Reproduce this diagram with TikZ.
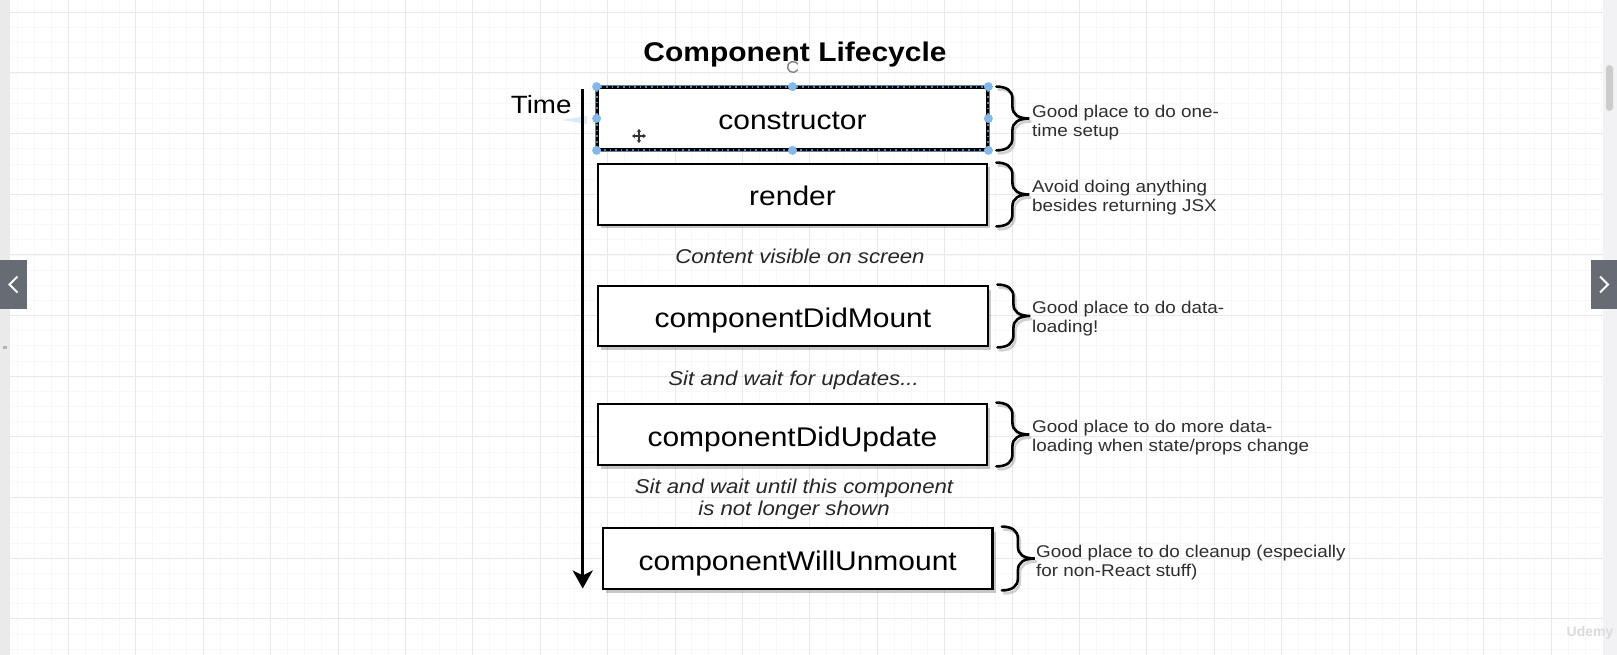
\documentclass[tikz,border=0pt]{standalone}
\usepackage{fontspec}
\setmainfont{Liberation Sans}
\usepackage{graphicx}
\usetikzlibrary{arrows.meta,calc,shadows}
\newcommand{\sx}[1]{\scalebox{1.11}[1]{#1}}
\definecolor{gridmajc}{HTML}{E9E9E9}
\definecolor{gridminc}{HTML}{F8F8F8}
\definecolor{navgray}{HTML}{676B74}
\definecolor{handlec}{HTML}{84B8EA}
\definecolor{stripc}{HTML}{EAEAEA}
\definecolor{rstripc}{HTML}{F2F2F4}
\newcommand{\curly}[3]{%
 ($(#1.north east)+(8+#2,#3)$)
 .. controls ($(#1.north east)+(18+#2,#3)$) and ($(#1.north east)+(24+#2,4+#3)$) .. ($(#1.north east)+(24+#2,12+#3)$)
 -- ($(#1.east)+(24+#2,-12+#3)$)
 .. controls ($(#1.east)+(24+#2,-4+#3)$) and ($(#1.east)+(30+#2,#3)$) .. ($(#1.east)+(41+#2,#3)$)
 .. controls ($(#1.east)+(30+#2,#3)$) and ($(#1.east)+(24+#2,4+#3)$) .. ($(#1.east)+(24+#2,12+#3)$)
 -- ($(#1.south east)+(24+#2,-12+#3)$)
 .. controls ($(#1.south east)+(24+#2,-4+#3)$) and ($(#1.south east)+(18+#2,#3)$) .. ($(#1.south east)+(8+#2,#3)$)}
\begin{document}
\begin{tikzpicture}[x=1pt,y=-1pt,
  minorline/.style={draw=gridminc, line width=0.8pt},
  majorline/.style={draw=gridmajc, line width=1pt},
  box/.style={draw=black, line width=2.8pt, fill=white, minimum width=389pt, minimum height=61pt,
    inner sep=0pt, font=\fontsize{27pt}{32pt}\selectfont, text height=23pt, text depth=0pt,
    drop shadow={shadow xshift=3pt, shadow yshift=-3.5pt, opacity=0.22, fill=black}},
  lbl/.style={inner sep=0pt, font=\fontsize{20pt}{22pt}\selectfont\itshape, text=black!85},
  note/.style={inner sep=0pt, anchor=north west, align=left, font=\fontsize{17pt}{19.2pt}\selectfont, text=black!82},
  bracestyle/.style={draw=black, line width=2.6pt, line cap=round},
  braceshadow/.style={draw=black, opacity=0.18, line width=2.6pt, line cap=round},
  timeline/.style={draw=black, line width=3pt, -{Stealth[length=18pt,width=20pt,inset=5pt]}}
]
\useasboundingbox (0,0) rectangle (1617,655);
\fill[white] (0,0) rectangle (1617,655);
% grid
\foreach \k in {0,...,42} {\draw[minorline] (10,{12.3+15.1625*\k}) -- (1603,{12.3+15.1625*\k});}
\foreach \k in {1,...,95} {\draw[minorline] ({1+16.85*\k},0) -- ({1+16.85*\k},655);}
\foreach \k in {0,...,10} {\draw[majorline] (10,{12.3+60.65*\k}) -- (1603,{12.3+60.65*\k});}
\foreach \k in {1,...,23} {\draw[majorline] ({1+67.4*\k},0) -- ({1+67.4*\k},655);}
% side strips and navigation
\fill[stripc] (0,0) rectangle (10,655);
\fill[rstripc] (1603,0) rectangle (1617,655);
\fill[black!20, rounded corners=3.5pt] (1606,65) rectangle (1613,111);
\fill[gray!60] (3,345.5) rectangle (7,349);
\node[fill=navgray, minimum width=27pt, minimum height=49pt, inner sep=0pt] (navl) at (13.5,284.5) {};
\node[fill=navgray, minimum width=26pt, minimum height=49pt, inner sep=0pt] (navr) at (1604,284.5) {};
\draw[white, line width=2pt] ($(navl)+(4,-8)$) -- ($(navl)+(-4,0)$) -- ($(navl)+(4,8)$);
\draw[white, line width=2pt] ($(navr)+(-4,-8)$) -- ($(navr)+(4,0)$) -- ($(navr)+(-4,8)$);
\node[text=black!14, font=\fontsize{14pt}{16pt}\selectfont\bfseries, inner sep=0pt] (wm) at (1590,633) {Udemy};
% title and time axis
\node[anchor=base, inner sep=0pt, font=\fontsize{27pt}{30pt}\selectfont\bfseries] (title) at (795,61.7) {\sx{Component Lifecycle}};
\node[anchor=base west, inner sep=0pt, font=\fontsize{25pt}{28pt}\selectfont] (time) at (510.7,113.3) {\sx{Time}};
\fill[handlec!30] (562,120) -- (587,116) -- (587,124) -- cycle;
\coordinate (ts) at (582.7,89);
\coordinate (te) at (582.7,588.5);
\draw[timeline] (ts) -- (te);
% boxes
\node[box] (c1) at (792.5,118.5) {\sx{constructor}};
\node[box] (c2) at (792.5,194.5) {\sx{render}};
\node[box, minimum width=390pt, minimum height=60pt] (c3) at (793,316) {\sx{componentDidMount}};
\node[box] (c4) at (792.5,434.5) {\sx{componentDidUpdate}};
\node[box, minimum width=389.5pt] (c5) at (797.75,558.5) {\sx{componentWillUnmount}};
% selection of constructor
\draw[handlec!70!black, line width=2.8pt] (c1.north west) rectangle (c1.south east);
\draw[black, line width=2pt, dash pattern=on 4pt off 1.6pt] (c1.north west) rectangle (c1.south east);
\foreach \a in {north west,north,north east,west,east,south west,south,south east}
  {\fill[handlec] (c1.\a) circle (4.5pt);}
% cursors
\coordinate (rot) at (793,67);
\draw[white, line width=3pt] ($(rot)+(4.76,2.75)$) arc[start angle=30, end angle=330, radius=5.5];
\draw[gray, line width=1.4pt] ($(rot)+(4.76,2.75)$) arc[start angle=30, end angle=330, radius=5.5];
\coordinate (mv) at (639,136);
\draw[black!80, line width=1.3pt, {Stealth[length=3pt,width=4.5pt]}-{Stealth[length=3pt,width=4.5pt]}] ($(mv)+(-7,0)$) -- ($(mv)+(7,0)$);
\draw[black!80, line width=1.3pt, {Stealth[length=3pt,width=4.5pt]}-{Stealth[length=3pt,width=4.5pt]}] ($(mv)+(0,-7)$) -- ($(mv)+(0,7)$);
% italic labels
\node[lbl, anchor=base] (l1) at (800,263.3) {\sx{Content visible on screen}};
\node[lbl, anchor=base] (l2) at (793.6,385) {\sx{Sit and wait for updates...}};
\node[lbl, anchor=north, align=center] (l3) at (794,478.7) {\sx{Sit and wait until this component}\\\sx{is not longer shown}};
% braces
\foreach \b in {c1,c2,c3,c4,c5} {\draw[braceshadow] \curly{\b}{2}{3};}
\foreach \b in {c1,c2,c3,c4,c5} {\draw[bracestyle] \curly{\b}{0}{0};}
% notes
\node[note] (n1) at (1032,104.5) {\sx{Good place to do one-}\\\sx{time setup}};
\node[note] (n2) at (1032,179.5) {\sx{Avoid doing anything}\\\sx{besides returning JSX}};
\node[note] (n3) at (1032,301.1) {\sx{Good place to do data-}\\\sx{loading!}};
\node[note] (n4) at (1032,419.5) {\sx{Good place to do more data-}\\\sx{loading when state/props change}};
\node[note] (n5) at (1036,544.5) {\sx{Good place to do cleanup (especially}\\\sx{for non-React stuff)}};
\end{tikzpicture}
\end{document}
